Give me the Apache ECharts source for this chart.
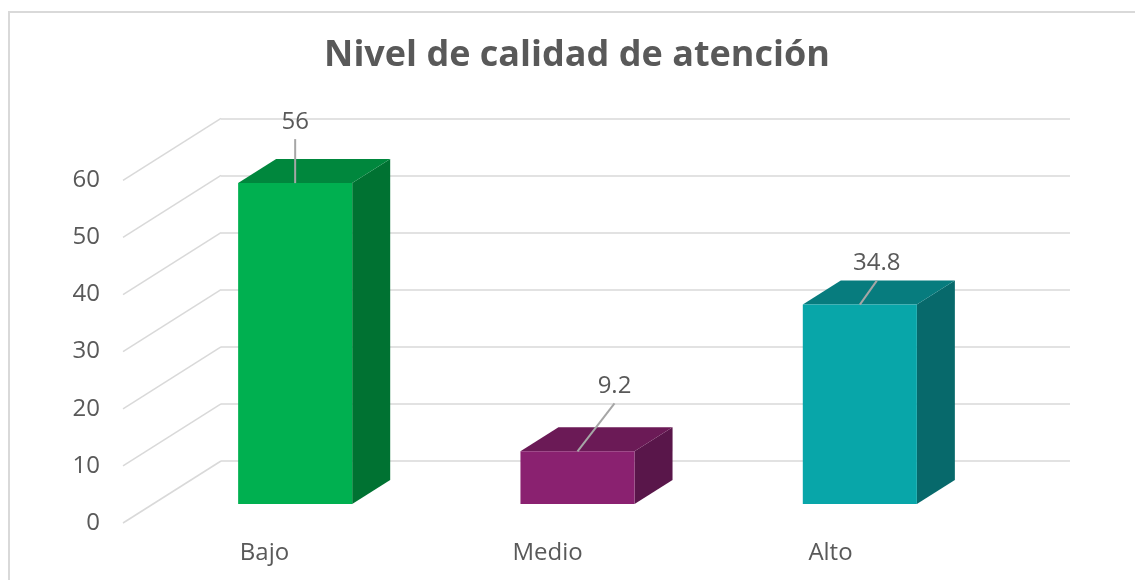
<!DOCTYPE html>
<html>
<head>
<meta charset="utf-8">
<script src="https://cdn.jsdelivr.net/npm/echarts@6/dist/echarts.min.js"></script>
<style>
  html, body { margin: 0; padding: 0; background: #ffffff; }
  #chart { width: 1135px; height: 580px; }
</style>
</head>
<body>
<div id="chart"></div>
<script>
// datos
var categories = ['Bajo', 'Medio', 'Alto'];
var values = [56, 9.2, 34.8];
var tickValues = [0, 10, 20, 30, 40, 50, 60];

(function () {
  var FONT = '"Open Sans", "DejaVu Sans", sans-serif';
  var TEXT = '#595959';
  var GRID = '#D9D9D9';
  var LABEL_SIZE = 24;

  // perspectiva: pared lateral y profundidad de las barras
  var WALL_DX = -98, WALL_DY = 62;
  var BAR_DX = 38, BAR_DY = -24;
  var BAR_RATIO = 0.404;

  /** colores: frente, tapa, lado */
  var barColors = [
    ['#00B050', '#00873D', '#007232'],
    ['#8A2170', '#6B1A56', '#59164A'],
    ['#08A6A9', '#077C7E', '#07696B'],
  ];
  // desplazamiento de cada etiqueta respecto al centro de la tapa
  var labelShift = [[0, -61], [37, -65], [17, -41]];

  var chart = echarts.init(document.getElementById('chart'), null, { renderer: 'canvas' });

  function renderWall(params, api) {
    var p = api.coord([0, api.value(1)]);
    return {
      type: 'line',
      shape: { x1: p[0], y1: p[1], x2: p[0] + WALL_DX, y2: p[1] + WALL_DY },
      style: { stroke: GRID, lineWidth: 1.5 },
    };
  }

  function renderBar(params, api) {
    var i = params.dataIndex;
    var top = api.coord([api.value(0), api.value(1)]);
    var base = api.coord([api.value(0), 0]);
    var w = api.size([1, 0])[0] * BAR_RATIO;
    var x0 = top[0] - w / 2, x1 = top[0] + w / 2;
    var yt = top[1], yb = base[1];
    var c = barColors[i];
    var s = labelShift[i];
    var lx = top[0] + s[0], ly = yt + s[1];
    return {
      type: 'group',
      children: [
        {
          type: 'polygon',
          shape: { points: [[x1, yt], [x1 + BAR_DX, yt + BAR_DY], [x1 + BAR_DX, yb + BAR_DY], [x1, yb]] },
          style: { fill: c[2] },
        },
        {
          type: 'polygon',
          shape: { points: [[x0, yt], [x0 + BAR_DX, yt + BAR_DY], [x1 + BAR_DX, yt + BAR_DY], [x1, yt]] },
          style: { fill: c[1] },
        },
        {
          type: 'rect',
          shape: { x: x0, y: yt, width: w, height: yb - yt },
          style: { fill: c[0] },
        },
        {
          type: 'line',
          shape: { x1: top[0], y1: yt, x2: lx, y2: ly + 17 },
          style: { stroke: '#A6A6A6', lineWidth: 2 },
        },
        {
          type: 'text',
          x: lx,
          y: ly,
          style: {
            text: String(values[i]),
            fill: TEXT,
            font: LABEL_SIZE + 'px ' + FONT,
            align: 'center',
            verticalAlign: 'middle',
          },
        },
      ],
    };
  }

  var option = {
    backgroundColor: '#ffffff',
    animation: false,
    title: {
      text: 'Nivel de calidad de atención',
      left: 572,
      textAlign: 'center',
      top: 33,
      textStyle: { color: TEXT, fontFamily: FONT, fontWeight: 'bold', fontSize: 36 },
    },
    graphic: [
      {
        type: 'rect',
        shape: { x: 9, y: 12, width: 1140, height: 600 },
        style: { fill: 'none', stroke: GRID, lineWidth: 2 },
      },
    ],
    grid: [
      // pared del fondo
      { left: 221, right: 65, top: 118.3, bottom: 119 },
      // bordes frontales de la pared lateral (etiquetas del eje)
      { left: 123, right: 65, top: 180.3, bottom: 57 },
      // plano frontal de las barras
      { left: 154, right: 134, top: 160.2, bottom: 76 },
      // borde frontal del suelo (etiquetas de categorías)
      { left: 123, right: 163, top: 100, bottom: 45 },
    ],
    xAxis: [
      { gridIndex: 0, type: 'value', min: 0, max: 1, show: false },
      { gridIndex: 1, type: 'value', min: 0, max: 1, show: false },
      { gridIndex: 2, type: 'category', data: categories, show: false },
      {
        gridIndex: 3,
        type: 'category',
        data: categories,
        axisLine: { show: false },
        axisTick: { show: false },
        axisLabel: { color: TEXT, fontFamily: FONT, fontSize: LABEL_SIZE, margin: 6 },
      },
    ],
    yAxis: [
      {
        gridIndex: 0,
        type: 'value',
        min: 0,
        max: 60,
        interval: 10,
        axisLine: { show: false },
        axisTick: { show: false },
        axisLabel: { show: false },
        splitLine: { lineStyle: { color: GRID, width: 1.5 } },
      },
      {
        gridIndex: 1,
        type: 'value',
        min: 0,
        max: 60,
        interval: 10,
        axisLine: { show: false },
        axisTick: { show: false },
        splitLine: { show: false },
        axisLabel: { color: TEXT, fontFamily: FONT, fontSize: LABEL_SIZE, margin: 23 },
      },
      { gridIndex: 2, type: 'value', min: 0, max: 60, show: false },
      { gridIndex: 3, type: 'value', min: 0, max: 1, show: false },
    ],
    series: [
      {
        type: 'custom',
        xAxisIndex: 0,
        yAxisIndex: 0,
        renderItem: renderWall,
        data: tickValues.map(function (t) { return [0, t]; }),
        silent: true,
      },
      {
        type: 'custom',
        xAxisIndex: 2,
        yAxisIndex: 2,
        renderItem: renderBar,
        data: values.map(function (v, i) { return [i, v]; }),
        silent: true,
      },
    ],
  };

  chart.setOption(option);
})();
</script>
</body>
</html>
